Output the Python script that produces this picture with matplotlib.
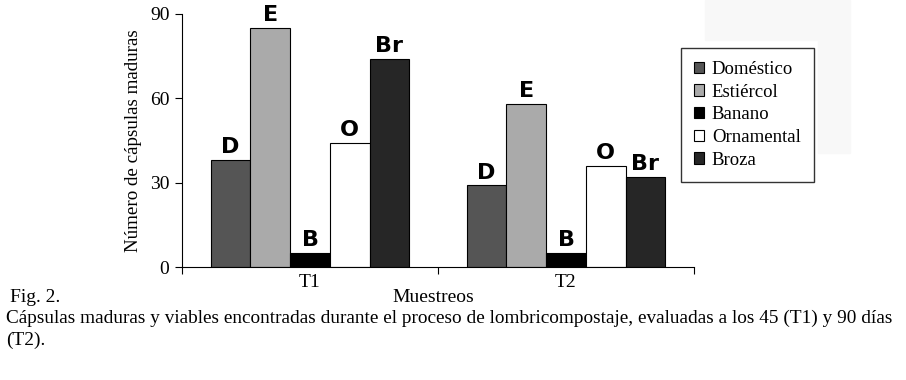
import numpy as np
import matplotlib.pyplot as plt
from matplotlib.patches import Rectangle

plt.rcParams['font.family'] = ['Liberation Serif', 'DejaVu Serif']

muestreos = ['T1', 'T2']
series = ['Doméstico', 'Estiércol', 'Banano', 'Ornamental', 'Broza']
letras = ['D', 'E', 'B', 'O', 'Br']
valores = {
    'Doméstico': [38, 29],
    'Estiércol': [85, 58],
    'Banano': [5, 5],
    'Ornamental': [44, 36],
    'Broza': [74, 32],
}
colores = ['#555555', '#aaaaaa', '#000000', '#ffffff', '#262626']

fig = plt.figure(figsize=(9.06, 3.8), dpi=100)
# restos grises del escaneo, arriba a la derecha
for r in [(705, 0, 145, 40), (818, 40, 32, 113)]:
    fig.patches.append(Rectangle((r[0]/906, 1-(r[1]+r[3])/380), r[2]/906, r[3]/380,
                                 transform=fig.transFigure, color='#f8f8f8', zorder=-10))
ax = fig.add_axes([182/906, 1-267/380, 512/906, 253/380])
ax.set_facecolor('none')

n = len(series)
ancho = 0.155
x = np.arange(len(muestreos))
for i, s in enumerate(series):
    pos = x + (i - (n-1)/2) * ancho
    ax.bar(pos, valores[s], ancho, color=colores[i], edgecolor='black',
           linewidth=0.8, label=s)
    for p, v in zip(pos, valores[s]):
        ax.annotate(letras[i], (p, v), xytext=(0, 5), textcoords='offset points',
                    ha='center', va='baseline', fontsize=16, fontweight='bold',
                    family='DejaVu Sans')

ax.set_xlim(-0.5, 1.5)
ax.set_ylim(0, 90)
ax.set_yticks([0, 30, 60, 90])
ax.set_xticks([-0.5, 0.5, 1.5], minor=False)
ax.set_xticklabels([])
ax.set_xticks(x, minor=True)
ax.set_xticklabels(muestreos, minor=True)
ax.tick_params(axis='x', which='minor', length=0, labelsize=14, pad=5)
ax.tick_params(axis='x', which='major', length=5, direction='out')
ax.tick_params(axis='y', length=5, labelsize=14, pad=4)
for lado in ['top', 'right']:
    ax.spines[lado].set_visible(False)
ax.set_ylabel('Número de cápsulas maduras', fontsize=13.7, labelpad=6)

leg = ax.legend(loc='upper left', bbox_to_anchor=(681/906, 1-48/380),
                bbox_transform=fig.transFigure, fontsize=13.5,
                frameon=True, fancybox=False, edgecolor='black',
                handlelength=0.55, handleheight=0.55, handletextpad=0.4,
                borderpad=0.7, labelspacing=0.3, borderaxespad=0)
leg.get_frame().set_linewidth(1)

fig.text(10/906, 1-297/380, 'Fig. 2.', fontsize=14, va='center')
fig.text(433/906, 1-297/380, 'Muestreos', fontsize=14, ha='center', va='center')
fig.text(6/906, 1-318/380,
         'Cápsulas maduras y viables encontradas durante el proceso de lombricompostaje, '
         'evaluadas a los 45 (T1) y 90 días', fontsize=13.9, va='center')
fig.text(6/906, 1-340/380, '(T2).', fontsize=13.9, va='center')

fig.savefig('out.png', dpi=100)
